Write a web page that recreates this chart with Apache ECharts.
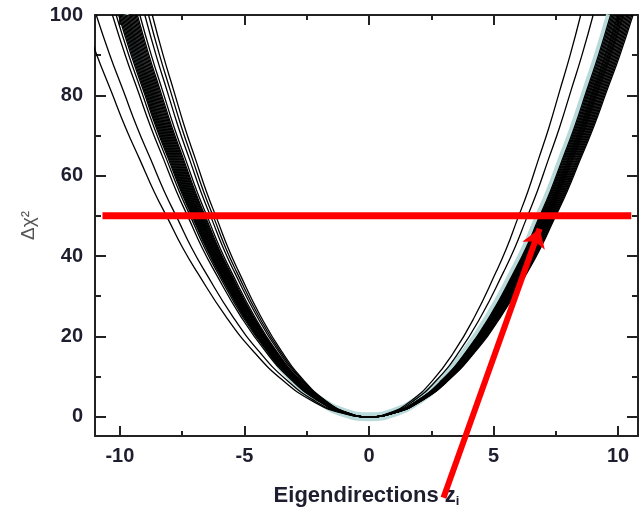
<!DOCTYPE html>
<html>
<head>
<meta charset="utf-8">
<script src="https://cdn.jsdelivr.net/npm/echarts@6/dist/echarts.min.js"></script>
<style>
  html, body { margin: 0; padding: 0; background: #fff; }
  #chart { width: 642px; height: 513px; }
</style>
</head>
<body>
<div id="chart"></div>
<script>
// shape of the central (cyan) curve: fraction of half-width vs delta chi^2
const profileX = [1.0, 0.95, 0.9, 0.85, 0.8, 0.75, 0.7, 0.65, 0.6, 0.5, 0.4, 0.3, 0.2, 0.1, 0];
const profileY = [100, 90, 81, 72, 64, 56, 49, 42, 36, 25, 16, 9, 4, 1, 0];

// half-widths at delta chi^2 = 100 of each black curve (left / right side)
const leftWidths = [11.5, 10.95, 10.3, 10.15, 10.05, 10.0, 9.95, 9.9, 9.85, 9.8, 9.75, 9.7,
  9.65, 9.6, 9.55, 9.5, 9.45, 9.4, 9.35, 9.3, 9.2, 9.0, 8.85, 8.7];
const rightWidths = [10.2, 10.0, 10.6, 10.5, 8.5, 10.4, 10.3, 9.0, 10.25, 10.2, 10.15, 10.1,
  10.05, 10.0, 9.95, 9.9, 9.85, 9.8, 10.35, 10.45, 9.75, 9.7, 10.55, 10.1];

// the cyan band
const bandLeft = 9.84;
const bandRight = 9.7;

// red cut line and arrow
const cutLevel = 50;
const cutFrom = -10.7;
const cutTo = 10.53;
const arrowStart = [2.99, -20.2];
const arrowEnd = [6.85, 46.8];

// axis ticks
const xMajor = [-10, -5, 0, 5, 10];
const xMinor = [-7.5, -2.5, 2.5, 7.5];
const yMajor = [0, 20, 40, 60, 80, 100];
const yMinor = [10, 30, 50, 70, 90];

const FONT = '"Liberation Sans", Arial, sans-serif';
const INK = '#1e1e2e';

function curve(wl, wr) {
  const pts = [];
  for (let i = 0; i < profileX.length; i++) pts.push([-wl * profileX[i], profileY[i]]);
  for (let i = profileX.length - 2; i >= 0; i--) pts.push([wr * profileX[i], profileY[i]]);
  return pts;
}

const chart = echarts.init(document.getElementById('chart'));

const lineOn = { show: true, onZero: false, lineStyle: { color: '#222', width: 2 } };
const lineOff = { show: false, onZero: false };

function xAx(pos, ticks, len, withLine, withLabels) {
  return {
    type: 'value', position: pos, min: -11, max: 10.8,
    axisLine: withLine ? lineOn : lineOff,
    axisTick: { show: true, inside: true, length: len, customValues: ticks, lineStyle: { color: '#222', width: 2 } },
    axisLabel: withLabels ? {
      show: true, customValues: ticks, margin: 10,
      fontFamily: FONT, fontWeight: 'bold', fontSize: 20, color: INK
    } : { show: false },
    splitLine: { show: false }
  };
}
function yAx(pos, ticks, len, withLine, withLabels) {
  return {
    type: 'value', position: pos, min: -4.8, max: 100,
    axisLine: withLine ? lineOn : lineOff,
    axisTick: { show: true, inside: true, length: len, customValues: ticks, lineStyle: { color: '#222', width: 2 } },
    axisLabel: withLabels ? {
      show: true, customValues: ticks, margin: 12,
      fontFamily: FONT, fontWeight: 'bold', fontSize: 20, color: INK
    } : { show: false },
    splitLine: { show: false }
  };
}

const xMain = xAx('bottom', xMajor, 10, true, true);
xMain.name = '{main|Eigendirections z}{sub|i}';
xMain.nameLocation = 'middle';
xMain.nameGap = 47;
xMain.nameTextStyle = {
  rich: {
    main: { fontFamily: FONT, fontWeight: 'bold', fontSize: 22, color: INK },
    sub: { fontFamily: FONT, fontWeight: 'bold', fontSize: 13, color: INK, padding: [12, 0, 0, 0] }
  }
};

const yMain = yAx('left', yMajor, 11, true, true);
yMain.name = 'Δχ²';
yMain.nameLocation = 'middle';
yMain.nameRotate = 90;
yMain.nameGap = 40;
yMain.nameTextStyle = { fontFamily: FONT, fontSize: 19, color: '#555' };

const series = [];
series.push({
  type: 'line', data: curve(bandLeft, bandRight),
  smooth: true, showSymbol: false, silent: true, z: 1,
  lineStyle: { color: '#b7d9d9', width: 9 }
});
leftWidths.forEach((wl, i) => {
  series.push({
    type: 'line', data: curve(wl, rightWidths[i]),
    smooth: true, showSymbol: false, silent: true, z: 2,
    lineStyle: { color: '#000', width: 1.3 }
  });
});
series.push({
  type: 'line', data: [[cutFrom, cutLevel], [cutTo, cutLevel]],
  showSymbol: false, silent: true, z: 5, clip: false,
  lineStyle: { color: '#ff0000', width: 7 }
});
series.push({
  id: 'arrow', type: 'line', data: [arrowStart, arrowEnd],
  clip: false, silent: true, z: 6,
  symbol: ['none', 'arrow'], showSymbol: true, showAllSymbol: true,
  symbolSize: (v, p) => (p.dataIndex === 1 ? [18, 18] : 0),
  itemStyle: { color: '#ff0000' },
  lineStyle: { color: '#ff0000', width: 6 }
});

chart.setOption({
  animation: false,
  grid: { left: 95, right: 4, top: 15, bottom: 64, containLabel: false },
  xAxis: [
    xMain,
    xAx('bottom', xMinor, 5, false, false),
    xAx('top', xMajor, 10, true, false),
    xAx('top', xMinor, 5, false, false)
  ],
  yAxis: [
    yMain,
    yAx('left', yMinor, 6, false, false),
    yAx('right', yMajor, 11, true, false),
    yAx('right', yMinor, 6, false, false)
  ],
  series: series
});

// turn the arrow head along the drawn line
const p0 = chart.convertToPixel({ xAxisIndex: 0, yAxisIndex: 0 }, arrowStart);
const p1 = chart.convertToPixel({ xAxisIndex: 0, yAxisIndex: 0 }, arrowEnd);
const angle = Math.atan2(p1[0] - p0[0], p0[1] - p1[1]) * 180 / Math.PI;
chart.setOption({
  series: [{
    id: 'arrow',
    symbol: 'arrow',
    symbolSize: (v, p) => (p.dataIndex === 1 ? [18, 18] : 0),
    symbolRotate: -angle
  }]
});
</script>
</body>
</html>
